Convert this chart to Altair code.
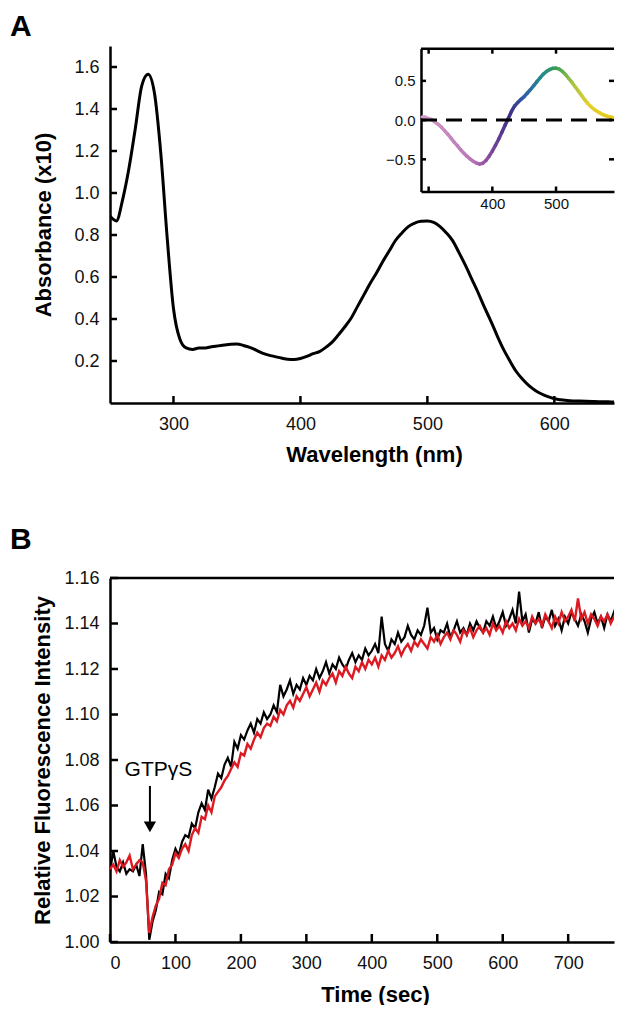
import altair as alt
import pandas as pd

# ---------------- Panel A: absorbance spectrum ----------------
wavelength = list(range(250, 655, 5))
absorbance = [0.890, 0.867, 0.970, 1.120, 1.310, 1.510, 1.565, 1.476, 1.190, 0.790,
              0.450, 0.305, 0.262, 0.255, 0.262, 0.262, 0.268, 0.272, 0.276, 0.280,
              0.281, 0.274, 0.265, 0.252, 0.238, 0.228, 0.221, 0.214, 0.208, 0.207,
              0.212, 0.222, 0.235, 0.245, 0.265, 0.290, 0.325, 0.363, 0.405, 0.460,
              0.515, 0.570, 0.620, 0.675, 0.725, 0.775, 0.810, 0.840, 0.857, 0.865,
              0.867, 0.860, 0.840, 0.810, 0.772, 0.715, 0.655, 0.590, 0.525, 0.455,
              0.390, 0.320, 0.255, 0.200, 0.150, 0.113, 0.083, 0.060, 0.043, 0.030,
              0.020, 0.016, 0.012, 0.010, 0.009, 0.008, 0.007, 0.006, 0.006, 0.005,
              0.005]
a_xdomain = [250, 647]
a_ydomain = [0, 1.7]
a_xticks = [300, 400, 500, 600]
a_yticks = [0.2, 0.4, 0.6, 0.8, 1.0, 1.2, 1.4, 1.6]
panel_a_label = ["A"]

# inset: difference spectrum
diff_wl = list(range(290, 605, 5))
diff_val = [0.040, 0.035, 0.020, 0.005, -0.025, -0.055, -0.090, -0.135, -0.180, -0.230,
            -0.280, -0.325, -0.375, -0.420, -0.460, -0.495, -0.525, -0.548, -0.560, -0.550,
            -0.515, -0.460, -0.395, -0.320, -0.240, -0.155, -0.065, 0.020, 0.110, 0.180,
            0.225, 0.265, 0.300, 0.345, 0.390, 0.440, 0.490, 0.540, 0.585, 0.620,
            0.645, 0.660, 0.662, 0.650, 0.620, 0.580, 0.530, 0.480, 0.425, 0.370,
            0.315, 0.260, 0.210, 0.170, 0.135, 0.110, 0.085, 0.065, 0.050, 0.040,
            0.030, 0.025, 0.020]
inset_xticks = [300, 400, 500]
inset_xlabels = [400, 500]
inset_yticks = [-0.5, 0.0, 0.5]
inset_xdomain = [288, 591]
inset_ydomain = [-0.91, 0.91]
inset_zero = [0.0]
color_stops = [290, 370, 392, 425, 450, 475, 500, 525, 550, 600]
color_range = ["#d49ac9", "#b676b4", "#8a4d9e", "#3b2e86", "#2f5ea6", "#238a90",
               "#3a9e55", "#a8c33e", "#e2d02c", "#e8c81e"]

# ---------------- Panel B: fluorescence time course ----------------
time_s = list(range(0, 785, 5))
trace_black = [
    1.031, 1.040, 1.033, 1.031, 1.035, 1.030, 1.032, 1.031, 1.034, 1.029, 1.043, 1.030,
    1.001, 1.009, 1.014, 1.022, 1.021, 1.030, 1.028, 1.036, 1.041, 1.038,
    1.044, 1.047, 1.046, 1.052, 1.050, 1.057, 1.061, 1.058, 1.067, 1.063,
    1.068, 1.074, 1.072, 1.078, 1.081, 1.077, 1.088, 1.085, 1.091, 1.089,
    1.093, 1.096, 1.092, 1.098, 1.096, 1.101, 1.098, 1.100, 1.104, 1.101,
    1.113, 1.108, 1.111, 1.115, 1.109, 1.113, 1.111, 1.116, 1.113, 1.117,
    1.115, 1.120, 1.116, 1.119, 1.123, 1.118, 1.122, 1.120, 1.125, 1.122,
    1.120, 1.124, 1.127, 1.123, 1.126, 1.124, 1.129, 1.126, 1.128, 1.131,
    1.127, 1.143, 1.131, 1.128, 1.133, 1.131, 1.136, 1.132, 1.134, 1.139,
    1.135, 1.133, 1.137, 1.135, 1.139, 1.147, 1.136, 1.138, 1.133, 1.137,
    1.136, 1.140, 1.134, 1.137, 1.141, 1.136, 1.138, 1.135, 1.140, 1.137,
    1.141, 1.138, 1.136, 1.141, 1.139, 1.143, 1.138, 1.141, 1.145, 1.139,
    1.142, 1.146, 1.140, 1.154, 1.141, 1.144, 1.136, 1.142, 1.140, 1.145,
    1.138, 1.143, 1.141, 1.146, 1.139, 1.142, 1.137, 1.143, 1.140, 1.145,
    1.142, 1.139, 1.144, 1.141, 1.136, 1.142, 1.145, 1.140, 1.143, 1.138,
    1.144, 1.141, 1.145, 1.140, 1.143]
trace_red = [
    1.032, 1.034, 1.031, 1.036, 1.033, 1.035, 1.038, 1.032, 1.034, 1.036, 1.035, 1.027,
    1.004, 1.011, 1.016, 1.019, 1.026, 1.025, 1.032, 1.034, 1.039, 1.037,
    1.041, 1.043, 1.040, 1.047, 1.050, 1.048, 1.055, 1.054, 1.060, 1.057,
    1.064, 1.066, 1.068, 1.071, 1.073, 1.076, 1.079, 1.077, 1.083, 1.082,
    1.087, 1.085, 1.089, 1.092, 1.090, 1.094, 1.096, 1.095, 1.099, 1.097,
    1.102, 1.100, 1.104, 1.106, 1.103, 1.108, 1.106, 1.109, 1.112, 1.108,
    1.111, 1.114, 1.110, 1.115, 1.113, 1.116, 1.118, 1.114, 1.119, 1.117,
    1.121, 1.118, 1.116, 1.121, 1.119, 1.123, 1.120, 1.124, 1.122, 1.125,
    1.121, 1.126, 1.124, 1.128, 1.125, 1.127, 1.130, 1.126, 1.129, 1.131,
    1.128, 1.132, 1.130, 1.133, 1.131, 1.129, 1.134, 1.132, 1.135, 1.131,
    1.134, 1.136, 1.133, 1.137, 1.135, 1.132, 1.137, 1.135, 1.138, 1.134,
    1.137, 1.139, 1.136, 1.138, 1.135, 1.140, 1.137, 1.139, 1.136, 1.141,
    1.138, 1.140, 1.137, 1.142, 1.139, 1.141, 1.138, 1.143, 1.140, 1.142,
    1.139, 1.144, 1.141, 1.138, 1.143, 1.140, 1.145, 1.141, 1.143, 1.146,
    1.141, 1.151, 1.142, 1.145, 1.140, 1.144, 1.142, 1.139, 1.143, 1.141,
    1.144, 1.140, 1.143, 1.141, 1.142]
b_xdomain = [0, 770]
b_ydomain = [1.0, 1.16]
b_xticks = [0, 100, 200, 300, 400, 500, 600, 700]
b_yticks = [1.00, 1.02, 1.04, 1.06, 1.08, 1.10, 1.12, 1.14, 1.16]
panel_b_label = ["B"]
annot_text = ["GTP\u03b3S"]
annot_text_x = [74]
annot_text_y = [1.0730]
arrow_x = [61]
arrow_top = [1.0686]
arrow_shaft_end = [1.0528]
arrow_head_y = [1.0506]

# ---------------- layout constants ----------------
FONT = "Liberation Sans"
WA, HA = 504, 357
WB, HB = 504, 364
IX0, IX1 = 311, 504
IY_TOP, IY_BOT = 2.7, 145.5
TICK_A, TICK_B, TICK_I = 7, 8, 5   # inward tick lengths in pixels

dfA = pd.DataFrame({"wl": wavelength, "a": absorbance})
seg = pd.DataFrame({"wl": diff_wl[:-1], "v": diff_val[:-1],
                    "wl2": diff_wl[1:], "v2": diff_val[1:]})
dash_df = pd.DataFrame({"x0": [inset_xdomain[0]], "x1": [inset_xdomain[1]], "y": inset_zero})
inset_top_df = pd.DataFrame({"x0": [inset_xdomain[0]], "x1": [inset_xdomain[1]],
                             "y": [inset_ydomain[1]]})
dfB = pd.DataFrame({"t": time_s, "black": trace_black, "red": trace_red})
ann = pd.DataFrame({"x": annot_text_x, "y": annot_text_y, "label": annot_text})
arr = pd.DataFrame({"x": arrow_x, "y": arrow_top, "y2": arrow_shaft_end, "yh": arrow_head_y})
b_top_df = pd.DataFrame({"x0": [b_xdomain[0]], "x1": [b_xdomain[1]], "y": [b_ydomain[1]]})
labA = pd.DataFrame({"x": [a_xdomain[0]], "y": [a_ydomain[1]], "t": panel_a_label})
labB = pd.DataFrame({"x": [b_xdomain[0]], "y": [b_ydomain[1]], "t": panel_b_label})

xA = alt.Scale(domain=a_xdomain, nice=False, zero=False)
yA = alt.Scale(domain=a_ydomain, nice=False, zero=False)
xI = alt.Scale(domain=inset_xdomain, range=[IX0, IX1], nice=False, zero=False)
yI = alt.Scale(domain=inset_ydomain, range=[IY_BOT, IY_TOP], nice=False, zero=False)
xB = alt.Scale(domain=b_xdomain, nice=False, zero=False)
yB = alt.Scale(domain=b_ydomain, nice=False, zero=False)


def per_px(domain, span_px):
    return (domain[1] - domain[0]) / span_px


def xticks_rule(values, y_edge, inward, xscale, yscale, width=2.5):
    # vertical inward ticks standing on a horizontal frame line
    n = len(values)
    df = pd.DataFrame({"x": values, "y": [y_edge] * n, "y2": [y_edge + inward] * n})
    return alt.Chart(df).mark_rule(color="black", strokeWidth=width).encode(
        x=alt.X("x:Q", scale=xscale, axis=None),
        y=alt.Y("y:Q", scale=yscale, axis=None),
        y2="y2:Q",
    )


def yticks_rule(values, x_edge, inward, xscale, yscale, width=2.5):
    # horizontal inward ticks on a vertical frame line
    n = len(values)
    df = pd.DataFrame({"y": values, "x": [x_edge] * n, "x2": [x_edge + inward] * n})
    return alt.Chart(df).mark_rule(color="black", strokeWidth=width).encode(
        x=alt.X("x:Q", scale=xscale, axis=None),
        x2="x2:Q",
        y=alt.Y("y:Q", scale=yscale, axis=None),
    )


def hline_layer(df, xscale, yscale, width=2.5, dash=None):
    kw = {"strokeDash": dash} if dash else {}
    return alt.Chart(df).mark_rule(color="black", strokeWidth=width, **kw).encode(
        x=alt.X("x0:Q", scale=xscale, axis=None),
        x2="x1:Q",
        y=alt.Y("y:Q", scale=yscale, axis=None),
    )


def panel_label(df, xscale, yscale, dy):
    return alt.Chart(df).mark_text(font=FONT, fontSize=30, fontWeight="bold", color="black",
                                   align="left", baseline="alphabetic", dx=-100, dy=dy).encode(
        x=alt.X("x:Q", scale=xscale, axis=None),
        y=alt.Y("y:Q", scale=yscale, axis=None),
        text="t:N",
    )


# ---- Panel A layers ----
a_main = alt.Chart(dfA).mark_line(color="black", strokeWidth=3, interpolate="monotone",
                                  clip=True).encode(
    x=alt.X("wl:Q", scale=xA, axis=alt.Axis(
        orient="bottom", values=a_xticks, ticks=False, tickSize=0, labelPadding=12,
        domainWidth=2.5, title="Wavelength (nm)", titlePadding=11, titleX=264)),
    y=alt.Y("a:Q", scale=yA, axis=alt.Axis(
        orient="left", values=a_yticks, format=".1f", ticks=False, tickSize=0, labelPadding=11,
        domainWidth=2.5, title="Absorbance (x10)", titlePadding=18)),
)
a_ticks_x = xticks_rule(a_xticks, a_ydomain[0], TICK_A * per_px(a_ydomain, HA), xA, yA)
a_ticks_y = yticks_rule(a_yticks, a_xdomain[0], TICK_A * per_px(a_xdomain, WA), xA, yA)
a_seg = alt.Chart(seg).mark_rule(strokeWidth=3.5, strokeCap="round", clip=True).encode(
    x=alt.X("wl:Q", scale=xI, axis=alt.Axis(
        orient="bottom", values=inset_xlabels, ticks=False, tickSize=0, labelPadding=5,
        labelFontSize=15, domainWidth=2.5, title=None, offset=-(HA - IY_BOT))),
    x2="wl2:Q",
    y=alt.Y("v:Q", scale=yI, axis=alt.Axis(
        orient="left", values=inset_yticks, format=".1f", ticks=False, tickSize=0,
        labelPadding=6, labelFontSize=15, domainWidth=2.5, title=None, offset=-IX0)),
    y2="v2:Q",
    color=alt.Color("wl:Q", scale=alt.Scale(domain=color_stops, range=color_range,
                                            interpolate="rgb"), legend=None),
)
a_dash = hline_layer(dash_df, xI, yI, width=3, dash=[16, 9])
a_itop = hline_layer(inset_top_df, xI, yI, width=2.5)
iy_len = TICK_I * per_px(inset_ydomain, IY_BOT - IY_TOP)
ix_len = TICK_I * per_px(inset_xdomain, IX1 - IX0)
a_it_b = xticks_rule(inset_xticks, inset_ydomain[0], iy_len, xI, yI)
a_it_t = xticks_rule(inset_xticks, inset_ydomain[1], -iy_len, xI, yI)
a_it_l = yticks_rule(inset_yticks, inset_xdomain[0], ix_len, xI, yI)
a_it_r = yticks_rule(inset_yticks, inset_xdomain[1], -ix_len, xI, yI)
a_lab = panel_label(labA, xA, yA, -10)

panelA = alt.layer(a_main, a_ticks_x, a_ticks_y, a_seg, a_dash, a_itop,
                   a_it_b, a_it_t, a_it_l, a_it_r, a_lab).resolve_scale(
    x="independent", y="independent", color="independent"
).resolve_axis(x="independent", y="independent").properties(width=WA, height=HA)

# ---- Panel B layers ----
b_black = alt.Chart(dfB).mark_line(color="black", strokeWidth=2.2, clip=True).encode(
    x=alt.X("t:Q", scale=xB, axis=alt.Axis(
        orient="bottom", values=b_xticks, ticks=False, tickSize=0, labelPadding=12,
        domainWidth=2.5, title="Time (sec)", titlePadding=12, titleX=265)),
    y=alt.Y("black:Q", scale=yB, axis=alt.Axis(
        orient="left", values=b_yticks, format=".2f", ticks=False, tickSize=0, labelPadding=11,
        domainWidth=2.5, title="Relative Fluorescence Intensity", titlePadding=9)),
)
b_red = alt.Chart(dfB).mark_line(color="#dc1a22", strokeWidth=2.4, clip=True).encode(
    x=alt.X("t:Q", scale=xB, axis=None),
    y=alt.Y("red:Q", scale=yB, axis=None),
)
b_ticks_x = xticks_rule(b_xticks, b_ydomain[0], TICK_B * per_px(b_ydomain, HB), xB, yB)
b_ticks_y = yticks_rule(b_yticks, b_xdomain[0], TICK_B * per_px(b_xdomain, WB), xB, yB)
b_top = hline_layer(b_top_df, xB, yB, width=2.5)
b_text = alt.Chart(ann).mark_text(font=FONT, fontSize=21, color="black", align="center",
                                  baseline="alphabetic").encode(
    x=alt.X("x:Q", scale=xB, axis=None),
    y=alt.Y("y:Q", scale=yB, axis=None),
    text="label:N",
)
b_shaft = alt.Chart(arr).mark_rule(color="black", strokeWidth=2).encode(
    x=alt.X("x:Q", scale=xB, axis=None),
    y=alt.Y("y:Q", scale=yB, axis=None),
    y2="y2:Q",
)
b_head = alt.Chart(arr).mark_point(shape="triangle-down", filled=True, color="black",
                                   size=150, opacity=1).encode(
    x=alt.X("x:Q", scale=xB, axis=None),
    y=alt.Y("yh:Q", scale=yB, axis=None),
)
b_lab = panel_label(labB, xB, yB, -29)

panelB = alt.layer(b_black, b_red, b_ticks_x, b_ticks_y, b_top, b_text, b_shaft, b_head,
                   b_lab).resolve_scale(
    x="independent", y="independent"
).resolve_axis(x="independent", y="independent").properties(width=WB, height=HB)

chart = alt.vconcat(panelA, panelB, spacing=60).properties(
    padding={"left": 2, "top": 4, "right": 0, "bottom": 0}
).configure_view(strokeWidth=0).configure_axis(
    grid=False, labelFont=FONT, labelFontSize=18, labelColor="#111", labelFontWeight="normal",
    titleFont=FONT, titleFontSize=22, titleFontWeight="bold", titleColor="black",
    domainColor="black", tickColor="black",
)

chart.save("out.html", embed_options={"renderer": "svg", "actions": False})
